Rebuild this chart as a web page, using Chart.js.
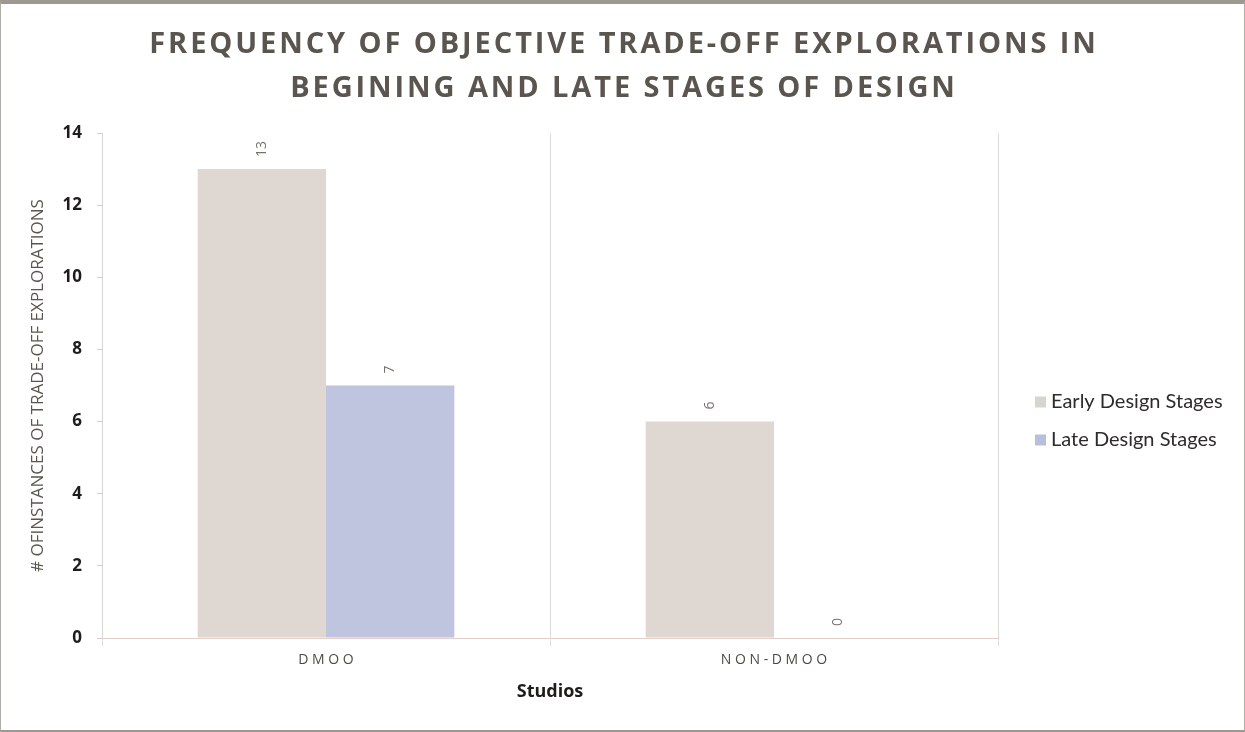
<!DOCTYPE html>
<html>
<head>
<meta charset="utf-8">
<script src="https://cdn.jsdelivr.net/npm/chart.js@4"></script>
<style>
  html, body { margin: 0; padding: 0; background: #ffffff; }
  #wrap {
    position: relative; width: 1245px; height: 732px; box-sizing: border-box;
    border-top: 4px solid #9c9892; border-left: 1px solid #b0aca8;
    border-right: 1px solid #b0aca8; border-bottom: 2px solid #9c9892;
  }
</style>
</head>
<body>
<div id="wrap"><canvas id="tradeoffChart"></canvas></div>
<script>
const studios = ['DMOO', 'NON-DMOO'];
const earlyStages = [13, 6];
const lateStages = [7, 0];
const yTicks = [0, 2, 4, 6, 8, 10, 12, 14];
const titleLines = ['FREQUENCY OF OBJECTIVE TRADE-OFF EXPLORATIONS IN', 'BEGINING AND LATE STAGES OF DESIGN'];

// rotated value labels above each bar
const barValues = {
    id: 'barValues',
    afterDatasetsDraw(chart) {
        const ctx = chart.ctx;
        ctx.save();
        ctx.font = '14px "Open Sans"';
        ctx.fillStyle = '#77716c';
        chart.data.datasets.forEach((ds, i) => {
            chart.getDatasetMeta(i).data.forEach((bar, j) => {
                ctx.save();
                ctx.translate(bar.x, bar.y - 12);
                ctx.rotate(-Math.PI / 2);
                ctx.textAlign = 'left';
                ctx.textBaseline = 'middle';
                ctx.fillText(String(ds.data[j]), 0, 0);
                ctx.restore();
            });
        });
        ctx.restore();
    }
};

// spaced-out title (canvas letterSpacing, the title plugin has none)
const spacedTitle = {
    id: 'spacedTitle',
    afterDraw(chart) {
        const ctx = chart.ctx;
        ctx.save();
        ctx.font = 'bold 29px "Open Sans"';
        ctx.letterSpacing = '2.9px';
        ctx.fillStyle = '#5b5550';
        ctx.textAlign = 'center';
        ctx.textBaseline = 'alphabetic';
        titleLines.forEach((line, i) => {
            ctx.fillText(line, chart.width / 2 + 1.5, 49 + i * 43.5);
        });
        ctx.restore();
    }
};

// legend to the right of the plot, a bit below the middle
const sideLegend = {
    id: 'sideLegend',
    afterDraw(chart) {
        const ctx = chart.ctx;
        const area = chart.chartArea;
        const x = area.right + 37;
        let y = (area.top + area.bottom) / 2 + 16;
        ctx.save();
        ctx.font = '20px Lato';
        ctx.textBaseline = 'middle';
        chart.data.datasets.forEach(ds => {
            ctx.fillStyle = ds.legendColor;
            ctx.fillRect(x, y - 5, 11, 11);
            ctx.fillStyle = '#2e2c2a';
            ctx.fillText(ds.label, x + 16, y);
            y += 38;
        });
        ctx.restore();
    }
};

const ctx = document.getElementById('tradeoffChart').getContext('2d');

new Chart(ctx, {
    type: 'bar',
    data: {
        labels: studios,
        datasets: [{
            label: 'Early Design Stages',
            data: earlyStages,
            backgroundColor: '#dfd8d2',
            legendColor: '#d8d5d0',
            barPercentage: 1,
            categoryPercentage: 0.573
        }, {
            label: 'Late Design Stages',
            data: lateStages,
            backgroundColor: '#bfc4df',
            legendColor: '#b8bfdc',
            barPercentage: 1,
            categoryPercentage: 0.573
        }]
    },
    plugins: [barValues, spacedTitle, sideLegend],
    options: {
        responsive: true,
        maintainAspectRatio: false,
        animation: false,
        layout: { padding: { left: 0, right: 246, top: 129, bottom: 0 } },
        plugins: {
            legend: { display: false },
            tooltip: { enabled: false }
        },
        scales: {
            x: {
                afterFit: (axis) => { axis.height = 92; },
                grid: {
                    offset: true,
                    color: '#dcdcdc',
                    tickLength: 8
                },
                border: { color: '#e3cfc7' },
                ticks: {
                    color: '#4f4a46',
                    font: { family: '"Open Sans"', size: 14 },
                    padding: 6,
                    callback: function (v) { return this.getLabelForValue(v).split('').join(' '); }
                },
                title: {
                    display: true,
                    text: 'Studios',
                    color: '#1f1d1b',
                    font: { family: '"Open Sans"', size: 18, weight: 'bold' },
                    padding: { top: 0, bottom: 27 }
                }
            },
            y: {
                min: 0,
                max: 14,
                afterFit: (axis) => { axis.width = 101; },
                afterBuildTicks: (axis) => { axis.ticks = yTicks.map(v => ({ value: v })); },
                grid: {
                    drawOnChartArea: false,
                    color: '#d0d0d0',
                    tickLength: 5
                },
                border: { color: '#d6d6d6' },
                ticks: {
                    color: '#1f1d1b',
                    font: { family: '"Open Sans"', size: 17, weight: 'bold' },
                    padding: 15
                },
                title: {
                    display: true,
                    text: '# OFINSTANCES OF TRADE-OFF EXPLORATIONS',
                    color: '#5b5550',
                    font: { family: '"Open Sans"', size: 17 },
                    padding: { top: 27, bottom: 0 }
                }
            }
        }
    }
});
</script>
</body>
</html>
